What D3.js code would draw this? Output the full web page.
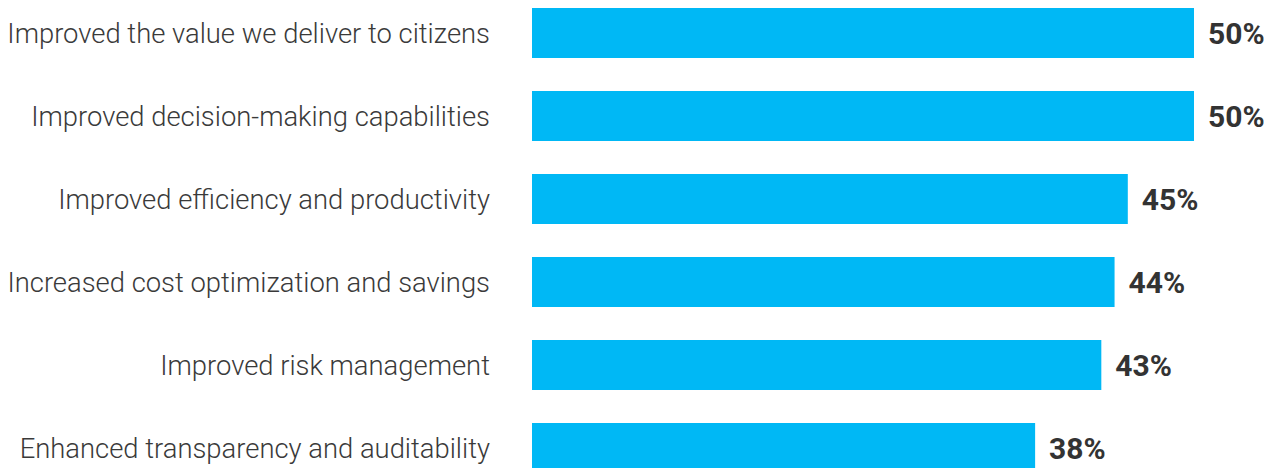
<!DOCTYPE html>
<html>
<head>
<meta charset="utf-8">
<script src="https://cdn.jsdelivr.net/npm/d3@7"></script>
<style>
  body { margin: 0; background: #fff; }
  svg { display: block; }
</style>
</head>
<body>
<svg id="chart" width="1273" height="468"></svg>
<script>
// donnees
var categories = [
    "Improved the value we deliver to citizens",
    "Improved decision-making capabilities",
    "Improved efficiency and productivity",
    "Increased cost optimization and savings",
    "Improved risk management",
    "Enhanced transparency and auditability"
];
var valeurs = [50, 50, 45, 44, 43, 38];

var xDebut = 532;

//------------------- echelles ----------------------------------------
var x = d3.scaleLinear().domain([0, 50]).range([xDebut, 1194]);
// pas de 83px, barres de 50px
var y = d3.scaleBand().domain(categories).range([8, 8 + 83 * 6 - 33]).paddingInner(33 / 83).paddingOuter(0);

var svg = d3.select("#chart");

//------------------- barres ----------------------------------------
svg.selectAll("rect.barre")
    .data(valeurs)
    .enter()
    .append("rect")
    .attr("class", "barre")
    .attr("x", x(0))
    .attr("y", function(d, i){ return y(categories[i]); })
    .attr("width", function(d){ return x(d) - x(0); })
    .attr("height", y.bandwidth())
    .attr("fill", "#00b8f5");

//------------------- libelles ----------------------------------------
svg.selectAll("text.libelle")
    .data(categories)
    .enter()
    .append("text")
    .attr("class", "libelle")
    .attr("x", 490)
    .attr("y", function(d){ return y(d) + y.bandwidth() / 2; })
    .attr("dy", "0.35em")
    .attr("text-anchor", "end")
    .attr("font-family", "Roboto, sans-serif")
    .attr("font-weight", 300)
    .attr("font-size", 27.4)
    .attr("fill", "#3a3a3a")
    .text(function(d){ return d; });

//------------------- valeurs ----------------------------------------
svg.selectAll("text.valeur")
    .data(valeurs)
    .enter()
    .append("text")
    .attr("class", "valeur")
    .attr("x", function(d){ return x(d) + 14; })
    .attr("y", function(d, i){ return y(categories[i]) + y.bandwidth() / 2; })
    .attr("dy", "0.36em")
    .attr("font-family", "Roboto, sans-serif")
    .attr("font-weight", 700)
    .attr("font-size", 30)
    .attr("fill", "#333333")
    .text(function(d){ return d + "%"; });
</script>
</body>
</html>
